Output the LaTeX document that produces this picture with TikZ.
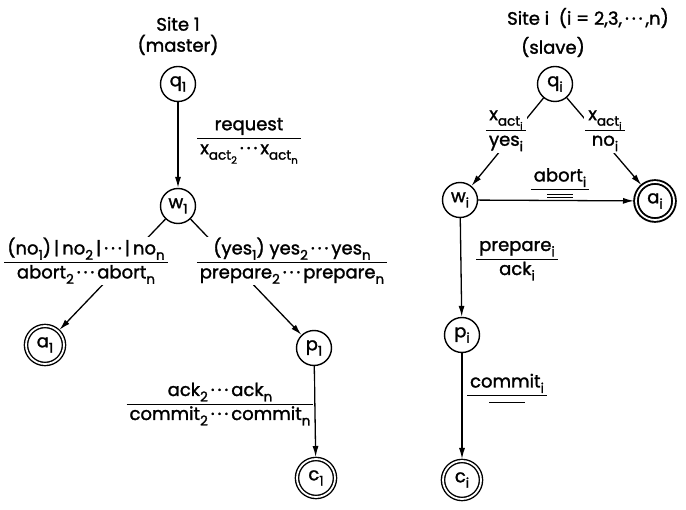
\documentclass[tikz,border=0pt]{standalone}
\usepackage{fontspec}
\setmainfont{Poppins}[FakeBold=1.5]
\usetikzlibrary{arrows.meta}
\newcommand{\sbs}[1]{\raisebox{-0.55ex}{\scalebox{0.75}{#1}}}
\newcommand{\dts}{\,\textperiodcentered\,\textperiodcentered\,\textperiodcentered\,}
\newcommand{\frc}[2]{\begin{tabular}{@{\hspace{3pt}}c@{\hspace{3pt}}}#1\\[2pt]\hline\rule{0pt}{15pt}#2\end{tabular}}
\newcommand{\numr}[1]{\begin{tabular}{@{\hspace{3pt}}c@{\hspace{3pt}}}#1\\[2pt]\hline\end{tabular}}
\setlength{\arrayrulewidth}{1pt}

\tikzset{
  state/.style={circle,draw,line width=1.4pt,minimum size=35pt,inner sep=0pt},
  final/.style={state,double,double distance=1.8pt,minimum size=38pt,outer sep=2pt},
  trans/.style={line width=1.3pt,-{Latex[length=11pt,width=6pt]}},
  lbl/.style={fill=white,inner sep=1pt}
}

\begin{document}
\begin{tikzpicture}[x=1pt,y=-1pt,font=\fontsize{18}{20}\selectfont]
  \useasboundingbox (0,0) rectangle (686,510);
  % site 1 (master)
  \node[align=center] (tm) at (178,36) {Site 1\\[1pt](master)};
  \node[state] (q1) at (178,84) {q\sbs{1}};
  \node[state] (w1) at (178,206) {w\sbs{1}};
  \node[final] (a1) at (45,345) {a\sbs{1}};
  \node[state] (p1) at (314,348) {p\sbs{1}};
  \node[final] (c1) at (316,478) {c\sbs{1}};
  \draw[trans] (q1) -- (w1);
  \draw[trans] (w1) -- (a1);
  \draw[trans] (w1) -- (p1);
  \draw[trans] (p1) -- (c1);
  \node[lbl] (req) at (249,140) {\frc{request}{x\sbs{act\sbs{2}}\dts x\sbs{act\sbs{n}}}};
  \node[lbl] (nos) at (86,261) {\frc{(no\sbs{1})\,|\,no\sbs{2}\,|\dts|\,no\sbs{n}}{abort\sbs{2}\dts abort\sbs{n}}};
  \node[lbl] (yess) at (292,261) {\frc{(yes\sbs{1}) yes\sbs{2}\dts yes\sbs{n}}{prepare\sbs{2}\dts prepare\sbs{n}}};
  \node[lbl] (acks) at (220,404) {\frc{ack\sbs{2}\dts ack\sbs{n}}{commit\sbs{2}\dts commit\sbs{n}}};
  % site i (slave)
  \node (ts) at (588,18) {Site i\ \ (i = 2,3,\dts,n)};
  \node (tsl) at (553,47) {(slave)};
  \node[state] (qi) at (555,84) {q\sbs{i}};
  \node[state] (wi) at (460,200) {w\sbs{i}};
  \node[final,line width=1.9pt] (ai) at (655,201) {a\sbs{i}};
  \node[state] (pi) at (462,335) {p\sbs{i}};
  \node[final] (ci) at (462,480) {c\sbs{i}};
  \draw[trans] (qi) -- (wi);
  \draw[trans] (qi) -- (ai);
  \draw[trans] (wi) -- (ai);
  \draw[trans] (wi) -- (pi);
  \draw[trans] (pi) -- (ci);
  \node[lbl] (yesi) at (506,129) {\frc{x\sbs{act\sbs{i}}}{yes\sbs{i}}};
  \node[lbl] (noi) at (605,129) {\frc{x\sbs{act\sbs{i}}}{no\sbs{i}}};
  \node[lbl] (abi) at (560,179) {\numr{abort\sbs{i}}};
  \draw[line width=1pt] ([xshift=-13pt,yshift=-3pt]abi.south) -- ++(26,0)
    ([xshift=-13pt,yshift=-6pt]abi.south) -- ++(26,0);
  \node[lbl] (pri) at (517,259) {\frc{prepare\sbs{i}}{ack\sbs{i}}};
  \node[lbl] (cmi) at (507,385) {\numr{commit\sbs{i}}};
  \draw[line width=1pt] ([xshift=-18pt,yshift=-5pt]cmi.south) -- ++(36,0);
\end{tikzpicture}
\end{document}
